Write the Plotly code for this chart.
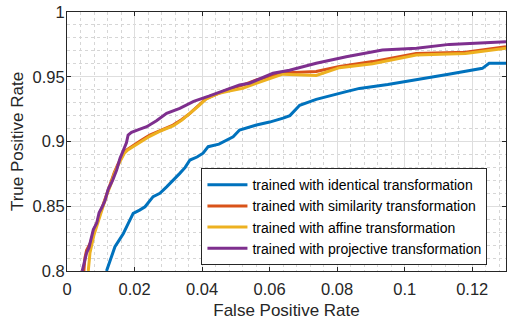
import plotly.graph_objects as go

# Data (FPR, TPR)
identical_fpr = [0.0117, 0.0125, 0.0135, 0.0142, 0.0155, 0.0167, 0.0180, 0.0186, 0.0196, 0.0215,
                 0.0231, 0.0255, 0.0275, 0.0295, 0.0315, 0.0334, 0.0350, 0.0364, 0.0385, 0.0403,
                 0.0418, 0.0450, 0.0492, 0.0511, 0.0561, 0.0600, 0.0640, 0.0660, 0.0689, 0.0738,
                 0.0827, 0.0866, 0.0950, 0.1034, 0.1130, 0.1230, 0.1250, 0.1300]
identical_tpr = [0.8000, 0.8060, 0.8120, 0.8187, 0.8240, 0.8290, 0.8360, 0.8393, 0.8445, 0.8470,
                 0.8496, 0.8574, 0.8600, 0.8650, 0.8700, 0.8754, 0.8800, 0.8857, 0.8880, 0.8910,
                 0.8960, 0.8980, 0.9037, 0.9089, 0.9127, 0.9150, 0.9180, 0.9200, 0.9280, 0.9325,
                 0.9385, 0.9410, 0.9440, 0.9475, 0.9520, 0.9565, 0.9604, 0.9604]

similarity_fpr = [0.0050, 0.0053, 0.0058, 0.0070, 0.0080, 0.0090, 0.0100, 0.0108, 0.0118, 0.0130,
                  0.0140, 0.0150, 0.0160, 0.0170, 0.0180, 0.0196, 0.0220, 0.0245, 0.0280, 0.0314,
                  0.0340, 0.0364, 0.0390, 0.0413, 0.0447, 0.0480, 0.0520, 0.0561, 0.0639, 0.0738,
                  0.0807, 0.0905, 0.1034, 0.1180, 0.1300]
similarity_tpr = [0.8000, 0.8100, 0.8160, 0.8220, 0.8320, 0.8380, 0.8460, 0.8520, 0.8600, 0.8680,
                  0.8760, 0.8820, 0.8870, 0.8920, 0.8940, 0.8970, 0.9010, 0.9050, 0.9090, 0.9127,
                  0.9170, 0.9217, 0.9280, 0.9333, 0.9370, 0.9405, 0.9435, 0.9475, 0.9530, 0.9540,
                  0.9580, 0.9617, 0.9680, 0.9690, 0.9732]

affine_fpr = [0.0063, 0.0068, 0.0080, 0.0090, 0.0100, 0.0108, 0.0118, 0.0130, 0.0140, 0.0150,
              0.0160, 0.0170, 0.0180, 0.0196, 0.0220, 0.0245, 0.0280, 0.0314, 0.0340, 0.0364,
              0.0390, 0.0413, 0.0447, 0.0480, 0.0520, 0.0560, 0.0639, 0.0738, 0.0807, 0.0905,
              0.1034, 0.1180, 0.1300]
affine_tpr = [0.8000, 0.8140, 0.8280, 0.8360, 0.8450, 0.8510, 0.8590, 0.8670, 0.8750, 0.8810,
              0.8860, 0.8910, 0.8935, 0.8960, 0.9000, 0.9040, 0.9085, 0.9120, 0.9165, 0.9215,
              0.9275, 0.9330, 0.9370, 0.9390, 0.9410, 0.9450, 0.9520, 0.9510, 0.9570, 0.9600,
              0.9668, 0.9680, 0.9720]

projective_fpr = [0.0045, 0.0050, 0.0058, 0.0065, 0.0072, 0.0078, 0.0088, 0.0095, 0.0105, 0.0112,
                  0.0122, 0.0135, 0.0147, 0.0157, 0.0165, 0.0171, 0.0176, 0.0181, 0.0191, 0.0210,
                  0.0236, 0.0265, 0.0295, 0.0334, 0.0375, 0.0420, 0.0460, 0.0511, 0.0540, 0.0610,
                  0.0659, 0.0738, 0.0827, 0.0934, 0.1035, 0.1132, 0.1300]
projective_tpr = [0.8000, 0.8060, 0.8140, 0.8180, 0.8260, 0.8320, 0.8370, 0.8450, 0.8500, 0.8540,
                  0.8630, 0.8700, 0.8780, 0.8870, 0.8920, 0.8960, 0.8990, 0.9050, 0.9070, 0.9090,
                  0.9114, 0.9160, 0.9217, 0.9256, 0.9310, 0.9350, 0.9390, 0.9437, 0.9450, 0.9527,
                  0.9550, 0.9604, 0.9655, 0.9707, 0.9720, 0.9750, 0.9770]

series_names = ["trained with identical transformation",
                "trained with similarity transformation",
                "trained with affine transformation",
                "trained with projective transformation"]
series_colors = ["#0072BD", "#D95319", "#EDB120", "#7E2F8E"]

x_ticks = [0, 0.02, 0.04, 0.06, 0.08, 0.1, 0.12]
x_tick_labels = ["0", "0.02", "0.04", "0.06", "0.08", "0.1", "0.12"]
y_ticks = [0.8, 0.85, 0.9, 0.95, 1.0]
y_tick_labels = ["0.8", "0.85", "0.9", "0.95", "1"]

fig = go.Figure()
for xs, ys, name, color in zip(
        [identical_fpr, similarity_fpr, affine_fpr, projective_fpr],
        [identical_tpr, similarity_tpr, affine_tpr, projective_tpr],
        series_names, series_colors):
    fig.add_trace(go.Scatter(x=xs, y=ys, mode="lines", name=name,
                             line=dict(color=color, width=3)))

font_family = "Liberation Sans, Arial, sans-serif"
axis_common = dict(
    showline=True, linecolor="#262626", linewidth=1, mirror="ticks",
    ticks="inside", ticklen=4, tickcolor="#262626",
    showgrid=True, gridcolor="#dedede", gridwidth=1,
    zeroline=False, automargin=False,
    tickfont=dict(family=font_family, size=16.5, color="#262626"),
)

fig.update_layout(
    width=507, height=320,
    margin=dict(l=67, r=1, t=12, b=49),
    paper_bgcolor="white", plot_bgcolor="white",
    font=dict(family=font_family, color="#262626"),
    xaxis=dict(range=[0, 0.13], tickvals=x_ticks, ticktext=x_tick_labels,
               ticklabelstandoff=3,
               title=dict(text="False Positive Rate", font=dict(size=17), standoff=12),
               minor=dict(dtick=0.004, tick0=0, showgrid=True, griddash="dot",
                          gridcolor="#d6d6d6", ticks=""),
               **axis_common),
    yaxis=dict(range=[0.8, 1.0], tickvals=y_ticks, ticktext=y_tick_labels,
               ticklabelstandoff=-2,
               title=dict(text="True Positive Rate", font=dict(size=17), standoff=4),
               minor=dict(dtick=0.01, tick0=0.8, showgrid=True, griddash="dot",
                          gridcolor="#d6d6d6", ticks=""),
               **axis_common),
    legend=dict(x=0.632, y=0.21, xanchor="center", yanchor="middle",
                bgcolor="white", bordercolor="#262626", borderwidth=1,
                font=dict(family=font_family, size=14, color="#000000"),
                tracegroupgap=0, itemwidth=40),
    showlegend=True,
)

fig.write_html("out.html", config={"displayModeBar": False},
               post_script="document.body.style.margin='0';")
